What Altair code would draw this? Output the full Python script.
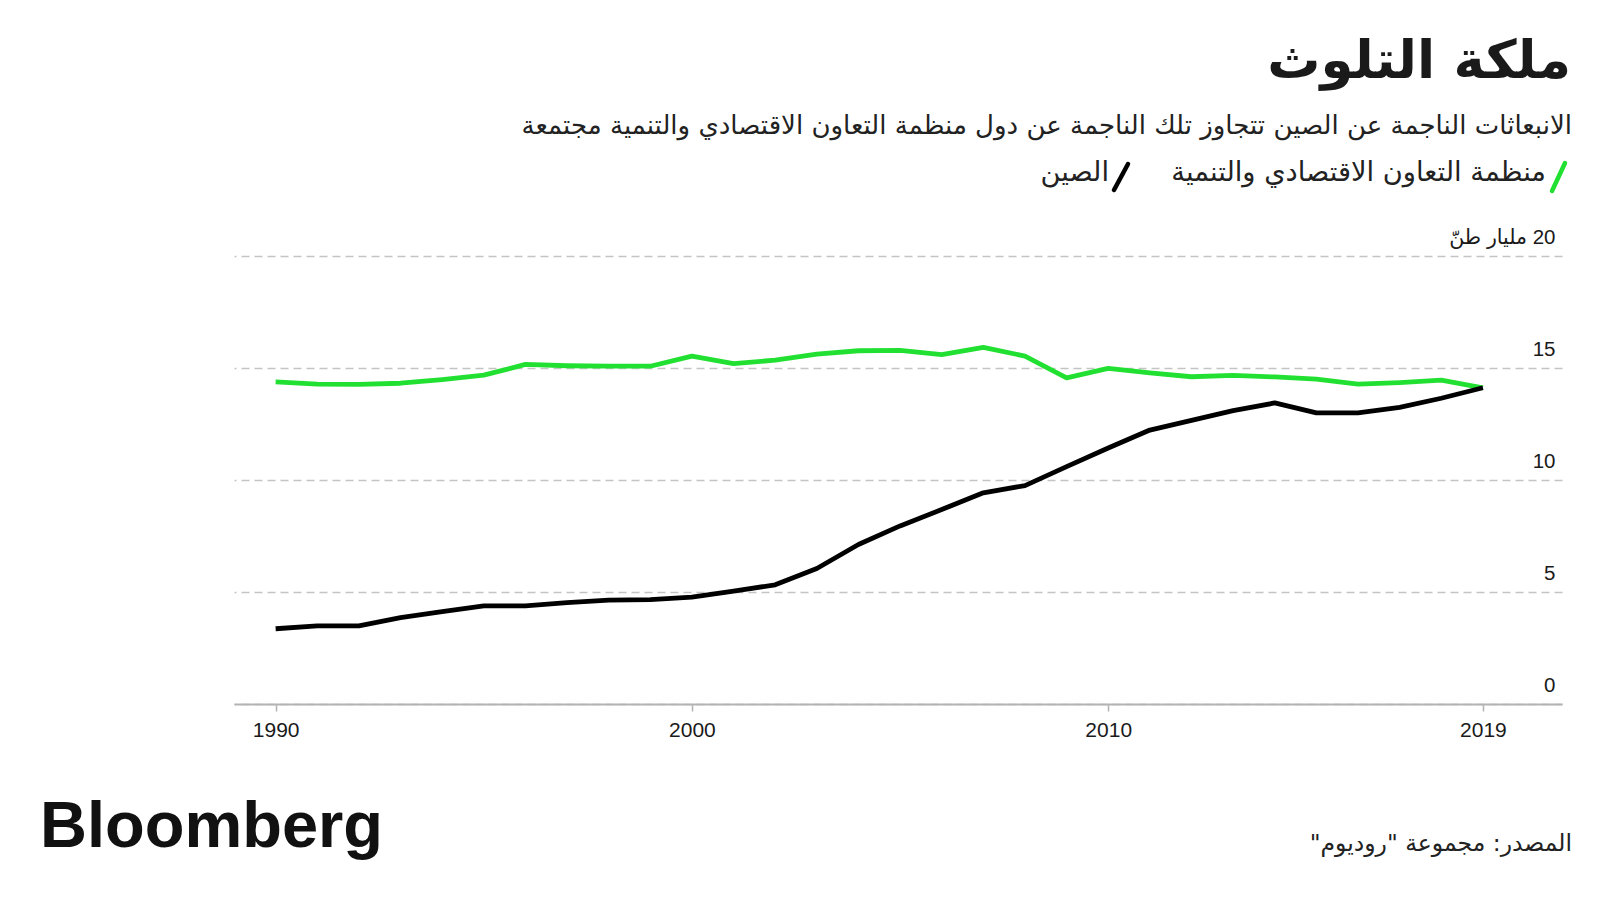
import altair as alt
import pandas as pd

# ---------------- data ----------------
years = list(range(1990, 2020))
china = [3.36, 3.49, 3.49, 3.86, 4.12, 4.38, 4.38, 4.53, 4.64, 4.66,
         4.77, 5.04, 5.32, 6.05, 7.12, 7.95, 8.68, 9.43, 9.75, 10.6,
         11.43, 12.23, 12.66, 13.1, 13.44, 13.0, 13.0, 13.24, 13.65, 14.12]
oecd = [14.38, 14.28, 14.27, 14.32, 14.48, 14.68, 15.16, 15.1, 15.08, 15.08,
        15.53, 15.2, 15.35, 15.62, 15.77, 15.79, 15.6, 15.92, 15.53, 14.56,
        14.98, 14.78, 14.61, 14.67, 14.6, 14.5, 14.28, 14.35, 14.46, 14.11]
series_names = ["منظمة التعاون الاقتصادي والتنمية", "الصين"]
series_colors = ["#22e032", "#000000"]
x_ticks = [1990, 2000, 2010, 2019]
y_ticks = [0, 5, 10, 15, 20]
y_unit_label = "\u200f20 مليار طنّ"

title_text = "ملكة التلوث"
subtitle_text = "الانبعاثات الناجمة عن الصين تتجاوز تلك الناجمة عن دول منظمة التعاون الاقتصادي والتنمية مجتمعة"
source_text = "\u200fالمصدر: مجموعة \"روديوم\"\u200f"
brand_text = "Bloomberg"

rows = []
for i, y in enumerate(years):
    rows.append({"year": y, "series": series_names[0], "value": oecd[i]})
    rows.append({"year": y, "series": series_names[1], "value": china[i]})
df = pd.DataFrame(rows)

# ---------------- layout ----------------
LEFT, TOP = 234, 256          # page coords of the plot origin
W, H = 1328, 448
AR_FONT = "DejaVu Sans"
NUM_FONT = "Liberation Sans, DejaVu Sans"

x_enc = alt.X(
    "year:Q",
    scale=alt.Scale(domain=[1989, 2020.9], nice=False, zero=False),
    axis=alt.Axis(values=x_ticks, format="d", title=None, grid=False,
                  domain=True, domainColor="#b3b3b3", domainWidth=2,
                  ticks=True, tickColor="#b3b3b3", tickSize=7, tickWidth=1.5,
                  labelFont=NUM_FONT, labelFontSize=21, labelColor="#1a1a1a",
                  labelPadding=8),
)
y_enc = alt.Y(
    "value:Q",
    scale=alt.Scale(domain=[0, 20], nice=False),
    axis=alt.Axis(orient="right", values=y_ticks, title=None, domain=False,
                  ticks=False, tickSize=0, grid=True, gridColor="#c4c4c4",
                  gridDash=[8, 5], gridWidth=1.3, labelAlign="right",
                  labelPadding=-7, labelBaseline="alphabetic", labelOffset=-13,
                  labelFont=NUM_FONT, labelFontSize=20.5, labelColor="#1a1a1a",
                  labelExpr="datum.value == 20 ? '" + y_unit_label + "' : datum.label"),
)
color_enc = alt.Color("series:N",
                      scale=alt.Scale(domain=series_names, range=series_colors),
                      legend=None)

base = alt.Chart(df).mark_line(strokeWidth=4.8, strokeJoin="round").encode(
    x=x_enc, y=y_enc, color=color_enc)
green_line = base.transform_filter(alt.datum.series == series_names[0])
black_line = base.transform_filter(alt.datum.series == series_names[1])


def txt(s, xf, yf, size, align="right", weight="normal", font=AR_FONT,
        color="#1a1a1a", baseline="alphabetic"):
    return alt.Chart(pd.DataFrame({"t": [s]})).mark_text(
        align=align, baseline=baseline, fontSize=size, fontWeight=weight,
        font=font, color=color).encode(
        x=alt.value(xf - LEFT), y=alt.value(yf - TOP), text="t:N")


def slash(x1, y1, x2, y2, color):
    return alt.Chart(pd.DataFrame({"a": [0]})).mark_rule(
        strokeWidth=4.5, strokeCap="round", color=color).encode(
        x=alt.value(x1 - LEFT), y=alt.value(y1 - TOP),
        x2=alt.value(x2 - LEFT), y2=alt.value(y2 - TOP))


title = txt(title_text, 1571, 78, 53, weight="bold", color="#1a1a1a")
subtitle = txt(subtitle_text, 1572, 134, 26, color="#222222")
leg1_txt = txt(series_names[0], 1546, 181, 27.3, color="#222222")
leg2_txt = txt(series_names[1], 1109, 181, 27.3, color="#222222")
leg1_sl = slash(1552, 191, 1565, 163, series_colors[0])
leg2_sl = slash(1114, 190, 1128, 164, series_colors[1])
source = txt(source_text, 1572, 851, 23.5, color="#222222")
brand = txt(brand_text, 40, 847, 65, align="left", weight="bold",
            font="Liberation Sans", color="#111111")

chart = alt.layer(
    green_line, black_line, title, subtitle, leg1_txt, leg2_txt,
    leg1_sl, leg2_sl, source, brand
).properties(
    width=W, height=H,
    padding={"left": LEFT - 8, "top": TOP - 8, "right": 30, "bottom": 180},
    autosize=alt.AutoSizeParams(type="none"),
    background="white",
).configure_view(stroke=None)

chart.save("out.html", embed_options={"renderer": "svg", "actions": False})
